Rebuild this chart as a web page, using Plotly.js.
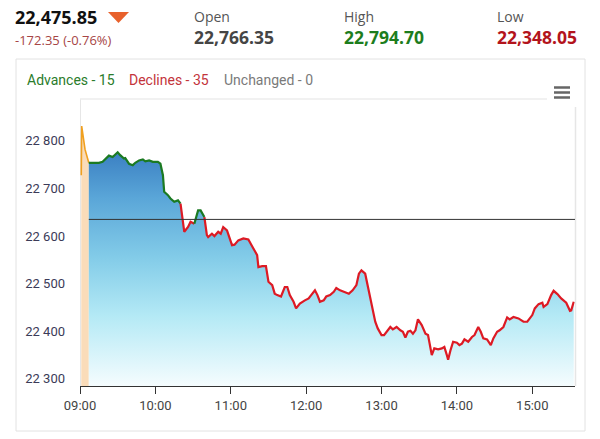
<!DOCTYPE html>
<html>
<head>
<meta charset="utf-8">
<script src="https://cdn.plot.ly/plotly-3.0.1.min.js"></script>
<style>
  html, body { margin: 0; padding: 0; background: #fff; }
  #chart { width: 600px; height: 439px; }
</style>
</head>
<body>
<div id="chart"></div>
<script>
// ---- data ----
const DAY = '2024-04-19 ';
const preTimes = ['09:01:00', '09:01:20', '09:04:00', '09:07:00'];
const preValues = [22728, 22831, 22782, 22754];

const times = ['09:07','09:15','09:18','09:21','09:23','09:26','09:28','09:30','09:32','09:35',
  '09:36','09:39','09:42','09:44','09:47','09:50','09:52','09:55','09:58','10:02',
  '10:04','10:06','10:07','10:10','10:12','10:15','10:18','10:20','10:22','10:23',
  '10:26','10:28','10:31','10:32','10:34','10:36','10:39','10:41','10:42','10:45',
  '10:47','10:50','10:52','10:54','10:57','10:59','11:01','11:03','11:06','11:10',
  '11:14','11:18','11:21','11:22','11:25','11:28','11:30','11:33','11:35','11:37',
  '11:40','11:43','11:45','11:47','11:50','11:52','11:55','11:59','12:02','12:04',
  '12:07','12:09','12:11','12:14','12:16','12:19','12:22','12:24','12:27','12:30',
  '12:34','12:37','12:40','12:42','12:44','12:47','12:49','12:52','12:55','12:57',
  '13:00','13:02','13:04','13:07','13:09','13:12','13:15','13:17','13:19','13:21',
  '13:23','13:25','13:27','13:29','13:32','13:35','13:37','13:39','13:40','13:42',
  '13:45','13:48','13:50','13:52','13:53','13:55','13:57','14:00','14:02','14:04',
  '14:06','14:09','14:12','14:14','14:17','14:19','14:21','14:24','14:27','14:29',
  '14:32','14:34','14:37','14:40','14:42','14:45','14:49','14:53','14:56','15:00',
  '15:02','15:05','15:08','15:09','15:12','15:15','15:17','15:20','15:23','15:27',
  '15:30','15:31','15:33'];
const values = [22754,22754,22756,22763,22769,22766,22771,22776,22770,22763,
  22764,22752,22749,22754,22759,22761,22757,22759,22756,22756,
  22752,22728,22693,22686,22679,22672,22675,22668,22630,22609,
  22619,22630,22626,22637,22654,22654,22640,22602,22598,22605,
  22600,22609,22605,22619,22612,22595,22581,22582,22591,22595,
  22593,22574,22560,22535,22537,22537,22504,22497,22479,22476,
  22473,22493,22493,22476,22462,22448,22458,22465,22469,22476,
  22486,22476,22462,22465,22473,22476,22483,22491,22486,22483,
  22479,22486,22497,22521,22528,22521,22497,22455,22420,22406,
  22392,22392,22399,22409,22404,22409,22402,22399,22387,22399,
  22401,22395,22402,22425,22413,22395,22392,22367,22350,22364,
  22362,22364,22367,22350,22340,22361,22378,22376,22371,22374,
  22383,22378,22388,22392,22409,22399,22385,22383,22371,22385,
  22399,22402,22409,22429,22425,22430,22427,22420,22420,22434,
  22448,22457,22460,22451,22457,22476,22485,22478,22469,22460,
  22443,22444,22462];

const prevClose = 22635;            // horizontal reference line
const yTicks = [22300, 22400, 22500, 22600, 22700, 22800];

const header = {
  last: '22,475.85', change: '-172.35 (-0.76%)',
  open: '22,766.35', high: '22,794.70', low: '22,348.05'
};
const breadth = {advances: 15, declines: 35, unchanged: 0};

// ---- layout helpers (pixel -> paper) ----
const W = 600, H = 439, ML = 80, MR = 25, MT = 99, MB = 53;
const PW = W - ML - MR, PH = H - MT - MB;
const px = x => (x - ML) / PW;
const py = y => (H - MB - y) / PH;

const GREEN = '#1b7a22', RED = '#dd1a24', ORANGE = '#f0a020';

const xs = times.map(t => DAY + t);
const traces = [];

// pre-open fill + line
traces.push({
  x: preTimes.map(t => DAY + t), y: preValues, type: 'scatter', mode: 'lines',
  line: {color: ORANGE, width: 1.6}, fill: 'tozeroy', fillcolor: '#fadcb9',
  hoverinfo: 'skip'
});

// main area fill
traces.push({
  x: xs, y: values, type: 'scatter', mode: 'lines',
  line: {width: 0, color: 'rgba(0,0,0,0)'}, fill: 'tozeroy',
  fillgradient: {type: 'vertical', start: 22285, stop: 22776,
    colorscale: [[0, '#f4fcfe'], [0.3, '#b3e9f5'], [0.55, '#82cbe8'], [0.8, '#5aa6d8'], [1, '#3a7fc2']]},
  hoverinfo: 'skip'
});

// coloured line segments (green above reference, red below)
const segs = [];
let seg = {c: values[0] >= prevClose ? GREEN : RED, x: [xs[0]], y: [values[0]]};
for (let i = 1; i < values.length; i++) {
  const c = values[i] >= prevClose ? GREEN : RED;
  if (c !== seg.c) {
    segs.push(seg);
    seg = {c: c, x: [xs[i - 1], xs[i]], y: [values[i - 1], values[i]]};
  } else {
    seg.x.push(xs[i]); seg.y.push(values[i]);
  }
}
segs.push(seg);
segs.forEach(s => traces.push({
  x: s.x, y: s.y, type: 'scatter', mode: 'lines',
  line: {color: s.c, width: 2.2, shape: 'linear'}, hoverinfo: 'skip'
}));

const shapes = [
  // card border
  {type: 'rect', xref: 'paper', yref: 'paper', x0: px(16), x1: px(585), y0: py(431), y1: py(59),
   line: {color: '#e2e2e2', width: 1}, layer: 'below'},
  // plot frame lines
  {type: 'line', xref: 'paper', yref: 'paper', x0: px(80), x1: px(547), y0: py(99), y1: py(99),
   line: {color: '#ececec', width: 1.5}},
  {type: 'line', xref: 'paper', yref: 'paper', x0: px(80.5), x1: px(80.5), y0: py(99), y1: py(386),
   line: {color: '#e6e6e6', width: 1}, layer: 'below'},
  {type: 'line', xref: 'paper', yref: 'paper', x0: px(575.5), x1: px(575.5), y0: py(107), y1: py(386),
   line: {color: '#e6e6e6', width: 1.5}},
  // reference line
  {type: 'line', xref: 'x', yref: 'y', x0: xs[0], x1: DAY + '15:34', y0: prevClose, y1: prevClose,
   line: {color: '#333', width: 1}},
  // down triangle next to last price
  {type: 'path', xref: 'paper', yref: 'paper',
   path: 'M ' + px(108) + ' ' + py(12) + ' L ' + px(129) + ' ' + py(12) + ' L ' + px(118.5) + ' ' + py(23) + ' Z',
   fillcolor: '#e8612c', line: {width: 0}},
];
// menu icon
[87.5, 92.5, 97.5].forEach(y => shapes.push({
  type: 'line', xref: 'paper', yref: 'paper', x0: px(554), x1: px(570), y0: py(y), y1: py(y),
  line: {color: '#666', width: 2.5}
}));

const ann = (x, y, text, size, color, bold, fam) => ({
  xref: 'paper', yref: 'paper', x: px(x), y: py(y), xanchor: 'left', yanchor: 'middle',
  text: bold ? '<b>' + text + '</b>' : text, showarrow: false,
  font: {size: size, color: color, family: fam || 'Open Sans, sans-serif'}
});

const annotations = [
  ann(13, 17, header.last, 18, '#111', true),
  ann(13, 40, header.change, 13, '#a64545', false),
  ann(192, 17, 'Open', 14, '#555', false),
  ann(192, 37, header.open, 17.5, '#454545', true),
  ann(342, 17, 'High', 14, '#555', false),
  ann(342, 37, header.high, 17.5, '#1d7d1d', true),
  ann(495, 17, 'Low', 14, '#555', false),
  ann(495, 37, header.low, 17.5, '#b3141c', true),
  ann(25, 80, 'Advances - ' + breadth.advances, 14, '#2b7c2b', false, 'Roboto'),
  ann(127, 80, 'Declines - ' + breadth.declines, 14, '#c3343b', false, 'Roboto'),
  ann(222, 80, 'Unchanged - ' + breadth.unchanged, 14, '#7a7a7a', false, 'Roboto'),
];

const layout = {
  width: W, height: H,
  margin: {l: ML, r: MR, t: MT, b: MB, pad: 0},
  paper_bgcolor: '#fff', plot_bgcolor: '#fff',
  showlegend: false,
  separators: '. ',
  font: {family: 'Roboto, sans-serif'},
  xaxis: {
    type: 'date', range: [DAY + '09:00', DAY + '15:34'],
    tick0: DAY + '09:00', dtick: 3600000, tickformat: '%H:%M',
    ticks: 'outside', ticklen: 7, tickcolor: '#333', tickwidth: 1,
    showline: true, linecolor: '#333', linewidth: 1,
    showgrid: false, zeroline: false,
    tickfont: {size: 13, color: '#444', family: 'Roboto'}, fixedrange: true
  },
  yaxis: {
    range: [22285, 22888], tickvals: yTicks, tickformat: ',d',
    showgrid: false, zeroline: false, showline: false, ticks: '',
    ticklabelstandoff: 14,
    tickfont: {size: 13, color: '#3b3b58', family: 'Roboto'}, fixedrange: true
  },
  shapes: shapes,
  annotations: annotations
};

Plotly.newPlot('chart', traces, layout, {displayModeBar: false, staticPlot: true});
</script>
</body>
</html>
